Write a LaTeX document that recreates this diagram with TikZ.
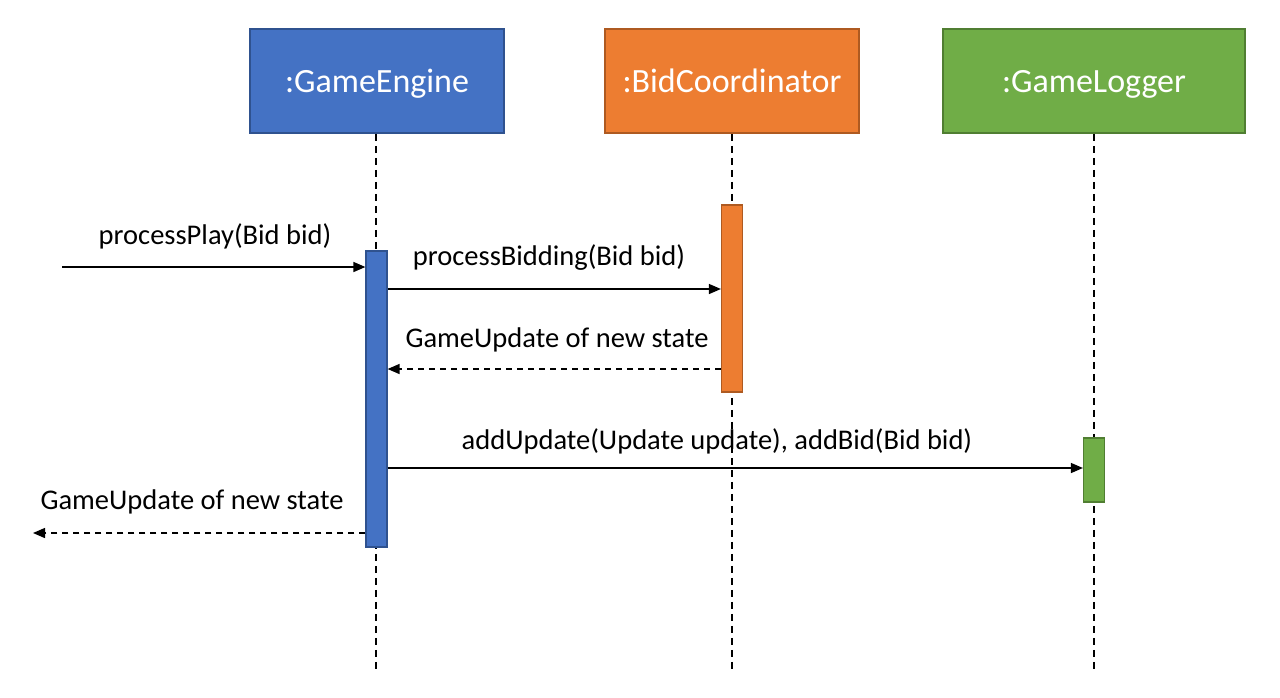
\documentclass[tikz,border=0pt]{standalone}
\usepackage{fontspec}
\setmainfont{Carlito}
\usetikzlibrary{arrows.meta}

\definecolor{geblue}{HTML}{4472C4}
\definecolor{geblueline}{HTML}{2F528F}
\definecolor{bcorange}{HTML}{ED7D31}
\definecolor{bcorangeline}{HTML}{AE5A21}
\definecolor{glgreen}{HTML}{70AD47}
\definecolor{glgreenline}{HTML}{507E32}

\tikzset{
  head/.style n args={2}{fill=#1, draw=#2, line width=1.5pt, minimum height=104pt,
    text=white, text depth=0pt, font=\fontsize{34}{40}\selectfont},
  act/.style n args={2}{fill=#1, draw=#2, line width=1.2pt, minimum width=21pt, inner sep=0pt},
  life/.style={line width=1.4pt, dash pattern=on 7pt off 5pt},
  msg/.style={line width=1.4pt, -{Triangle[length=12pt, width=10pt]}},
  reply/.style={msg, dash pattern=on 6pt off 5pt},
  lbl/.style={font=\fontsize{28.5}{32}\selectfont, inner sep=0pt}
}

\begin{document}
\begin{tikzpicture}[x=1pt, y=-1pt]
  \useasboundingbox (0,0) rectangle (1280,697);

  % objects
  \node (ge) at (377,81) [head={geblue}{geblueline}, minimum width=254pt] {:GameEngine};
  \node (bc) at (732,81) [head={bcorange}{bcorangeline}, minimum width=254pt] {:BidCoordinator};
  \node (gl) at (1094,81) [head={glgreen}{glgreenline}, minimum width=302pt] {:GameLogger};

  % lifelines
  \coordinate (geend) at (376,672);
  \coordinate (bcend) at (732,672);
  \coordinate (glend) at (1094,672);
  \draw [life] (ge.south -| geend) -- (geend);
  \draw [life] (bc.south -| bcend) -- (bcend);
  \draw [life] (gl.south -| glend) -- (glend);

  % activations
  \node (geact) at (376.5,399) [act={geblue}{geblueline}, minimum height=296pt] {};
  \node (bcact) at (732,298.5) [act={bcorange}{bcorangeline}, minimum height=187pt] {};
  \node (glact) at (1094,470) [act={glgreen}{glgreenline}, minimum height=64pt] {};

  % messages
  \coordinate (playin) at (62,267);
  \draw [msg] (playin) -- (geact.west |- playin);
  \node (playlbl) at (215,236) [lbl] {processPlay(Bid bid)};

  \draw [msg] (geact.east |- 0,289) -- (bcact.west |- 0,289);
  \node (bidlbl) at (549,258) [lbl] {processBidding(Bid bid)};

  \draw [reply] (bcact.west |- 0,369) -- (geact.east |- 0,369);
  \node (bcretlbl) at (557,340) [lbl] {GameUpdate of new state};

  \draw [msg] (geact.east |- 0,468) -- (glact.west |- 0,468);
  \node (loglbl) at (717,441) [lbl] {addUpdate(Update update), addBid(Bid bid)};

  \coordinate (playout) at (33,533);
  \draw [reply] (geact.west |- playout) -- (playout);
  \node (geretlbl) at (192,502) [lbl] {GameUpdate of new state};
\end{tikzpicture}
\end{document}
